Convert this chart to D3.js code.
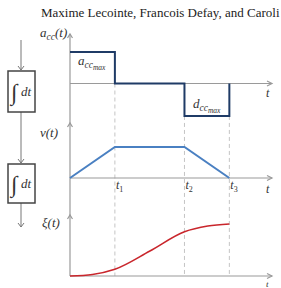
<!DOCTYPE html>
<html>
<head>
<meta charset="utf-8">
<script src="https://cdn.jsdelivr.net/npm/d3@7"></script>
<style>
  body { margin: 0; background: #fff; overflow: hidden; }
  text { font-family: "Liberation Serif", "DejaVu Serif", serif; }
</style>
</head>
<body>
<script>
let w = 281;
let h = 288;

// data
let phaseTimes = [0, 1, 2.55, 3.55];
let phaseLabels = ["1", "2", "3"];
let accValues = [1, 0, -1.03, 0];
let velValues = [0, 1, 1, 0];
let posTimes = [0, 0.5, 1, 1.78, 2.55, 3.07, 3.55];
let posValues = [0, 0.03, 0.13, 0.48, 0.85, 0.96, 1];

let axisCol = "#9a9a9a";

let svg = d3.select("body").append("svg").attr("width", w).attr("height", h);

svg
  .append("text")
  .attr("x", 41)
  .attr("y", 17)
  .style("font-size", "13px")
  .style("fill", "#222")
  .text("Maxime Lecointe, Francois Defay, and Caroli");

let xScale = d3.scaleLinear().domain([0, 4.5]).range([70, 272]);
let yAcc = d3.scaleLinear().domain([-1, 1]).range([115, 52]);
let yVel = d3.scaleLinear().domain([0, 1]).range([178, 147]);
let yPos = d3.scaleLinear().domain([0, 1]).range([276, 224]);

// dashed guides
let guideTop = [yAcc(0), yAcc(-1.03), yAcc(-1.03)];
phaseTimes.slice(1).forEach((t, i) => {
  svg
    .append("line")
    .attr("x1", xScale(t))
    .attr("x2", xScale(t))
    .attr("y1", guideTop[i])
    .attr("y2", yPos(0))
    .attr("stroke", "#c4c4c4")
    .attr("stroke-width", 1)
    .attr("stroke-dasharray", "4,3");
});

// vertical axis, one line through the three plots
svg
  .append("line")
  .attr("x1", xScale(0))
  .attr("x2", xScale(0))
  .attr("y1", 34)
  .attr("y2", yPos(0))
  .attr("stroke", axisCol)
  .attr("stroke-width", 1.2);

function upArrow(y) {
  let x = xScale(0);
  svg
    .append("path")
    .attr("d", `M${x - 2.5},${y + 4}L${x},${y}L${x + 2.5},${y + 4}`)
    .attr("fill", "none")
    .attr("stroke", axisCol)
    .attr("stroke-width", 1.2);
}
[34, 123, 215].forEach(upArrow);

function timeAxis(y, labelY, size) {
  let x0 = xScale(0);
  let x1 = xScale(4.5);
  svg
    .append("line")
    .attr("x1", x0)
    .attr("x2", x1)
    .attr("y1", y)
    .attr("y2", y)
    .attr("stroke", axisCol)
    .attr("stroke-width", 1.2);
  svg
    .append("path")
    .attr("d", `M${x1 - 5},${y - 2.5}L${x1},${y}L${x1 - 5},${y + 2.5}`)
    .attr("fill", "none")
    .attr("stroke", axisCol)
    .attr("stroke-width", 1.2);
  svg
    .append("text")
    .attr("x", 266)
    .attr("y", labelY)
    .style("font-size", size)
    .style("font-style", "italic")
    .style("fill", "#333")
    .text("t");
}
timeAxis(yAcc(0), 97, "12px");
timeAxis(yVel(0), 193, "12px");
timeAxis(yPos(0), 287, "9px");

// acceleration
svg
  .append("path")
  .datum(phaseTimes.map((t, i) => [t, accValues[i]]))
  .attr("fill", "none")
  .attr("stroke", "#1f3b66")
  .attr("stroke-width", 2)
  .attr(
    "d",
    d3
      .line()
      .curve(d3.curveStepAfter)
      .x((d) => xScale(d[0]))
      .y((d) => yAcc(d[1]))
  );

// velocity
svg
  .append("path")
  .datum(phaseTimes.map((t, i) => [t, velValues[i]]))
  .attr("fill", "none")
  .attr("stroke", "#4a80c2")
  .attr("stroke-width", 2)
  .attr(
    "d",
    d3
      .line()
      .x((d) => xScale(d[0]))
      .y((d) => yVel(d[1]))
  );

// position
svg
  .append("path")
  .datum(posTimes.map((t, i) => [t, posValues[i]]))
  .attr("fill", "none")
  .attr("stroke", "#c9262c")
  .attr("stroke-width", 1.6)
  .attr(
    "d",
    d3
      .line()
      .curve(d3.curveMonotoneX)
      .x((d) => xScale(d[0]))
      .y((d) => yPos(d[1]))
  );

// t1 t2 t3
phaseTimes.slice(1).forEach((t, i) => {
  let tx = svg
    .append("text")
    .attr("x", xScale(t) + 1)
    .attr("y", 189)
    .style("font-size", "12px")
    .style("font-style", "italic")
    .style("fill", "#333");
  tx.append("tspan").text("t");
  tx.append("tspan")
    .attr("dy", 3)
    .style("font-size", "8px")
    .style("font-style", "normal")
    .text(phaseLabels[i]);
});

// math labels
function mathLabel(x, y, base, sub, subsub, tail) {
  let tx = svg
    .append("text")
    .attr("x", x)
    .attr("y", y)
    .style("font-size", "13px")
    .style("font-style", "italic")
    .style("fill", "#333");
  tx.append("tspan").text(base);
  if (sub) tx.append("tspan").attr("dy", 3).style("font-size", "9.5px").text(sub);
  if (subsub) tx.append("tspan").attr("dy", 2).style("font-size", "7.5px").text(subsub);
  if (tail) {
    let back = (sub ? -3 : 0) + (subsub ? -2 : 0);
    tx.append("tspan").attr("dy", back).text(tail);
  }
}
mathLabel(40, 37, "a", "cc", null, "(t)");
mathLabel(78, 65, "a", "cc", "max", null);
mathLabel(193, 108, "d", "cc", "max", null);
mathLabel(40, 137, "v(t)", null, null, null);
mathLabel(42, 227, "ξ(t)", null, null, null);

// integrator blocks
let blocks = [
  { top: 71, bottom: 112 },
  { top: 164, bottom: 203 },
];
let arrows = [
  [40, 71],
  [112, 164],
  [203, 228],
];
arrows.forEach((a) => {
  svg
    .append("line")
    .attr("x1", 21)
    .attr("x2", 21)
    .attr("y1", a[0])
    .attr("y2", a[1] - 1)
    .attr("stroke", "#777")
    .attr("stroke-width", 1);
  svg
    .append("path")
    .attr("d", `M18,${a[1] - 5}L21,${a[1] - 1}L24,${a[1] - 5}`)
    .attr("fill", "none")
    .attr("stroke", "#777")
    .attr("stroke-width", 1);
});
blocks.forEach((b) => {
  svg
    .append("rect")
    .attr("x", 8)
    .attr("y", b.top)
    .attr("width", 27)
    .attr("height", b.bottom - b.top)
    .attr("fill", "#fff")
    .attr("stroke", "#444")
    .attr("stroke-width", 1.5);
  let mid = (b.top + b.bottom) / 2;
  svg
    .append("text")
    .attr("x", 11)
    .attr("y", mid + 8)
    .style("font-size", "23px")
    .style("fill", "#333")
    .text("∫");
  svg
    .append("text")
    .attr("x", 21)
    .attr("y", mid + 4)
    .style("font-size", "13px")
    .style("font-style", "italic")
    .style("fill", "#333")
    .text("dt");
});
</script>
</body>
</html>
